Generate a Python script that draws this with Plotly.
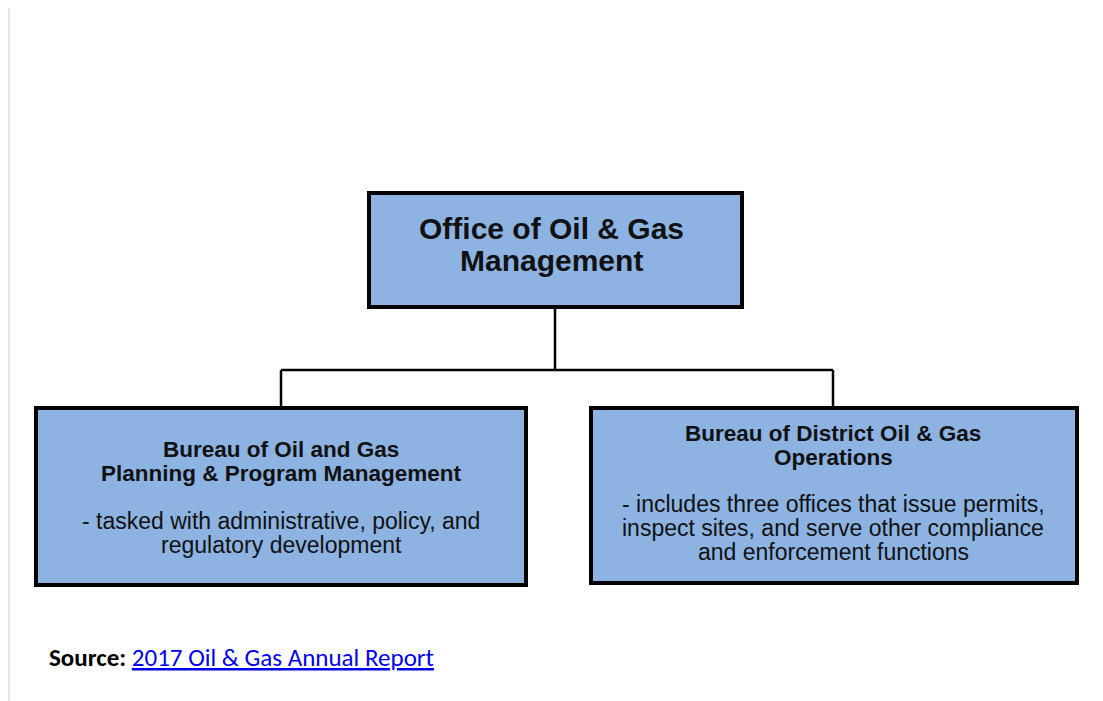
import plotly.graph_objects as go

# chart content
top_title = ["Office of Oil & Gas", "Management"]
left_title = ["Bureau of Oil and Gas", "Planning & Program Management"]
left_body = ["- tasked with administrative, policy, and", "regulatory development"]
right_title = ["Bureau of District Oil & Gas", "Operations"]
right_body = ["- includes three offices that issue permits,",
              "inspect sites, and serve other compliance",
              "and enforcement functions"]
source_label = "Source:"
source_link = "2017 Oil & Gas Annual Report"

W, H = 1103, 701
OFF = 8  # page body margin in the browser
FILL = "#8DB3E2"
FONT = "Liberation Sans, Arial, sans-serif"

fig = go.Figure()

# boxes (x0, y0, x1, y1) in page pixels
boxes = [(369, 193, 742, 307), (36, 408, 526, 585), (591, 408, 1077, 583)]
for x0, y0, x1, y1 in boxes:
    fig.add_shape(type="rect", x0=x0 - OFF, y0=y0 - OFF, x1=x1 - OFF, y1=y1 - OFF,
                  fillcolor=FILL, line=dict(color="black", width=4), layer="above")

# connectors
for x0, y0, x1, y1 in [(555, 307, 555, 370), (281, 370, 833, 370),
                       (281, 370, 281, 408), (833, 370, 833, 408)]:
    fig.add_shape(type="line", x0=x0 - OFF, y0=y0 - OFF, x1=x1 - OFF, y1=y1 - OFF,
                  line=dict(color="black", width=2.5), layer="below")

# faint page edge at left
fig.add_shape(type="line", x0=1, y0=0, x1=1, y1=H, line=dict(color="#e3e3e3", width=2))


def lines(texts, x, y0, step, size, bold):
    for i, t in enumerate(texts):
        fig.add_annotation(x=x - OFF, y=y0 + i * step - OFF,
                           text=("<b>%s</b>" % t) if bold else t,
                           showarrow=False, xanchor="center", yanchor="middle",
                           font=dict(family=FONT, size=size, color="#111111"))


lines(top_title, 551, 228, 32, 30, True)
lines(left_title, 281, 449, 24, 22.5, True)
lines(left_body, 281, 521, 24, 23, False)
lines(right_title, 833, 433, 24, 22.5, True)
lines(right_body, 833, 504, 24, 23, False)

fig.add_annotation(x=47 - OFF, y=657 - OFF, xanchor="left", yanchor="middle", showarrow=False,
                   text="<b>%s</b> <a href='#' style='color:#0000EE'><u>%s</u></a>"
                        % (source_label, source_link),
                   font=dict(family="Carlito, Open Sans, sans-serif", size=25, color="black"))

fig.update_xaxes(range=[0, W], visible=False, fixedrange=True)
fig.update_yaxes(range=[H, 0], visible=False, fixedrange=True)
fig.update_layout(width=W, height=H, margin=dict(l=0, r=0, t=0, b=0),
                  plot_bgcolor="white", paper_bgcolor="white", showlegend=False)
fig.write_html("out.html")
